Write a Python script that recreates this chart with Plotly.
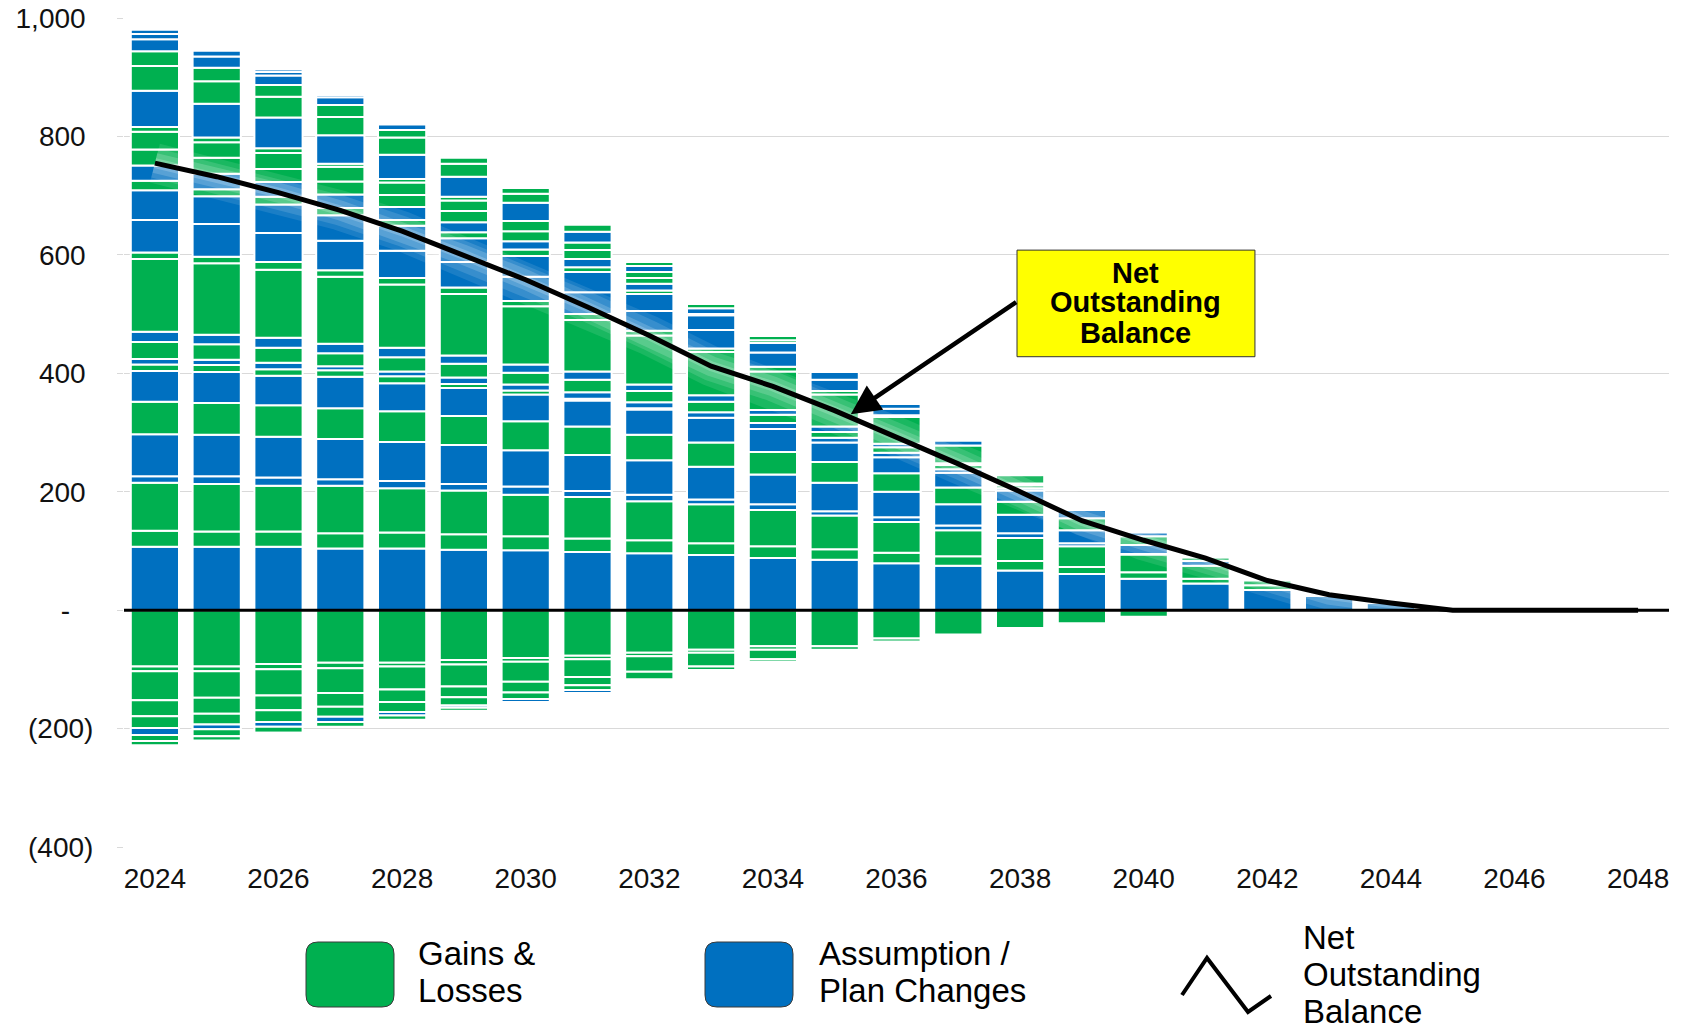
import plotly.graph_objects as go

# ---------------------------------------------------------------------------
# Data
# ---------------------------------------------------------------------------
years = list(range(2024, 2049))
x_ticks = list(range(2024, 2049, 2))

GREEN = "#00B050"   # Gains & Losses
BLUE = "#0070C0"    # Assumption / Plan Changes

# Outstanding amortization layers above zero, listed bottom to top.
# Each list starts in 2024 and stops once the layer is fully amortized.
pos_01 = [107, 107, 107, 104, 104, 102, 101, 98, 96, 93, 88, 85, 79, 75, 67, 61, 53, 45, 34, 24, 12]
pos_02 = [27, 26, 26, 26, 27, 26, 24, 23, 22, 20, 20, 18, 18, 16, 16, 12, 11, 8, 8]
pos_03 = [81, 80, 77, 80, 75, 74, 70, 70, 66, 66, 61, 57, 52, 44, 39, 35, 30, 22, 8]
pos_04 = [11, 13, 14, 11, 12, 11, 14, 10, 11, 8, 10, 7, 8, 8, 8, 5, 1]
pos_05 = [71, 70, 69, 68, 66, 66, 61, 61, 58, 55, 50, 48, 43, 36, 31, 22, 15, 8]
pos_06 = [55, 54, 53, 52, 52, 49, 49, 48, 43, 41, 38, 35, 31, 28, 22, 20, 15, 6]
pos_07 = [52, 52, 50, 53, 47, 47, 45, 44, 43, 42, 39, 33, 27, 25, 19, 14, 6]
pos_08 = [11, 12, 11, 11, 12, 7, 7, 3, 2]
pos_09 = [9, 9, 11, 7, 8, 11, 10, 11, 10, 9, 10, 8, 8, 6, 4]
pos_10 = [29, 26, 25, 22, 24, 23, 20, 21, 19, 18, 14, 10, 9, 7, 5]
pos_11 = [17, 16, 17, 16, 16, 14, 14, 14, 11, 11, 8, 9, 6, 3, 3]
pos_12 = [123, 121, 115, 113, 107, 104, 98, 87, 83, 73, 65, 54, 45, 30, 14]
pos_13 = [11, 11, 13, 11, 11, 11, 9, 10, 8, 6, 8, 6, 3]
pos_14 = [55, 55, 49, 50, 46, 43, 41, 37, 33, 31, 24, 19, 11, 8]
pos_15 = [50, 47, 48, 43, 42, 40, 35, 34, 29, 25, 16, 13, 8]
pos_16 = [16, 12, 13, 12, 10, 10, 11, 8, 6, 2, 5]
pos_17 = [26, 26, 25, 23, 22, 17, 14, 14, 11, 10]
pos_18 = [27, 27, 22, 22, 20, 19, 17, 15, 10, 7, 7]
pos_19 = [30, 26, 27, 25, 21, 18, 17, 13, 10]
pos_20 = [8, 8, 8, 5, 6, 6]
pos_21 = [61, 57, 52, 48, 41, 34, 31, 18, 10]
pos_22 = [42, 38, 35, 31, 29, 22, 15, 12, 7]
pos_23 = [25, 23, 20, 20, 13, 10, 10]
pos_24 = [20, 19, 16, 13, 9]
pos_25 = [9, 10, 6, 4]
pos_26 = [7, 3, 4]

pos_colors = [BLUE, GREEN, GREEN, BLUE, BLUE, GREEN, BLUE, GREEN, BLUE, GREEN,
              BLUE, GREEN, GREEN, BLUE, BLUE, GREEN, BLUE, GREEN, GREEN, GREEN,
              BLUE, GREEN, GREEN, BLUE, BLUE, BLUE]

# Layers below zero, listed from zero downward.
neg_01 = [-95, -95, -91, -89, -89, -84, -81, -77, -72, -67, -61, -61, -48, -41, -30, -22, -11]
neg_02 = [-8, -8, -9, -9, -6, -8, -6, -6, -6, -5, -6, -6, -5]
neg_03 = [-49, -45, -44, -42, -39, -37, -34, -30, -26, -23, -16]
neg_04 = [-27, -27, -25, -23, -21, -18, -18, -14, -13, -6, -4]
neg_05 = [-20, -18, -20, -17, -17, -14, -11, -8, -3]
neg_06 = [-12, -8, -8, -9, -6, -4, -5, -5]
neg_07 = [-10, -12, -10, -8, -7, -5]
neg_08 = [-7, -7, -3]

neg_colors = [GREEN, GREEN, GREEN, GREEN, GREEN, BLUE, GREEN, GREEN]

# Net outstanding balance, 2024-2048
net_balance = [755, 732, 705, 675, 640, 600, 558, 512, 464, 412, 378, 337, 293,
               247, 200, 151, 118, 88, 50, 26, 12, 0, 0, 0, 0]

y_ticks = [-400, -200, 0, 200, 400, 600, 800, 1000]
NB = "\u00a0"
y_ticktext = ["(400)", "(200)", "-" + NB * 3, "200" + NB, "400" + NB,
              "600" + NB, "800" + NB, "1,000" + NB]

# ---------------------------------------------------------------------------
# Figure
# ---------------------------------------------------------------------------
W, H = 1688, 1031
M_L, M_R, M_T, M_B = 124, 19, 18, 184
PLOT_W = W - M_L - M_R
PLOT_H = H - M_T - M_B


def px_x(px):
    return (px - M_L) / PLOT_W


def px_y(py):
    return (H - M_B - py) / PLOT_H


fig = go.Figure()

pos_layers = [pos_01, pos_02, pos_03, pos_04, pos_05, pos_06, pos_07, pos_08, pos_09,
              pos_10, pos_11, pos_12, pos_13, pos_14, pos_15, pos_16, pos_17, pos_18,
              pos_19, pos_20, pos_21, pos_22, pos_23, pos_24, pos_25, pos_26]
neg_layers = [neg_01, neg_02, neg_03, neg_04, neg_05, neg_06, neg_07, neg_08]

for vals, col in zip(pos_layers + neg_layers, pos_colors + neg_colors):
    fig.add_trace(go.Bar(
        x=years[:len(vals)], y=vals,
        marker=dict(color=col, line=dict(color="white", width=2)),
        hoverinfo="skip",
    ))

# soft light halo under the balance line, built from a few translucent strokes
for w, a in [(40, 0.10), (30, 0.13), (20, 0.17), (10, 0.2)]:
    fig.add_trace(go.Scatter(x=years, y=net_balance, mode="lines",
                             line=dict(color=f"rgba(255,255,255,{a})", width=w),
                             hoverinfo="skip"))
fig.add_trace(go.Scatter(x=years, y=net_balance, mode="lines",
                         line=dict(color="black", width=5),
                         name="Net Outstanding Balance"))

tick_font = dict(family="Liberation Sans, Arial, sans-serif", size=28, color="#111")

fig.update_layout(
    width=W, height=H,
    margin=dict(l=M_L, r=M_R, t=M_T, b=M_B, autoexpand=False),
    barmode="relative", bargap=0.22,
    plot_bgcolor="white", paper_bgcolor="white",
    showlegend=False,
    font=dict(family="Liberation Sans, Arial, sans-serif", color="#000"),
)
fig.update_xaxes(
    range=[2023.5, 2048.5], tickvals=x_ticks, ticktext=[str(v) for v in x_ticks],
    tickfont=tick_font, showgrid=False, zeroline=False, showline=False,
    ticks="", ticklabelstandoff=12, automargin=False,
)
fig.update_yaxes(
    range=[-400, 1000], tickvals=y_ticks, ticktext=y_ticktext,
    tickfont=tick_font, showgrid=True, gridcolor="#d9d9d9", gridwidth=1,
    zeroline=False, showline=False,
    ticks="outside", ticklen=6, tickcolor="#d9d9d9", tickwidth=1,
    ticklabelstandoff=18, automargin=False,
)

shapes = []
# axis line at zero
shapes.append(dict(type="line", xref="paper", x0=0, x1=1, yref="y", y0=0, y1=0,
                   line=dict(color="black", width=3), layer="above"))

# callout box
shapes.append(dict(type="rect", xref="x", yref="y", x0=2037.95, x1=2041.8,
                   y0=428, y1=608, fillcolor="#FFFF00",
                   line=dict(color="#333333", width=1), layer="above"))


def rounded_rect(x0, y0, x1, y1, r):
    ax0, ax1 = px_x(x0), px_x(x1)
    ay0, ay1 = px_y(y1), px_y(y0)
    rx = r / PLOT_W
    ry = r / PLOT_H
    return (f"M {ax0 + rx},{ay0} L {ax1 - rx},{ay0} Q {ax1},{ay0} {ax1},{ay0 + ry} "
            f"L {ax1},{ay1 - ry} Q {ax1},{ay1} {ax1 - rx},{ay1} "
            f"L {ax0 + rx},{ay1} Q {ax0},{ay1} {ax0},{ay1 - ry} "
            f"L {ax0},{ay0 + ry} Q {ax0},{ay0} {ax0 + rx},{ay0} Z")


# legend swatches
for x0, col in [(306, GREEN), (705, BLUE)]:
    shapes.append(dict(type="path", xref="paper", yref="paper",
                       path=rounded_rect(x0, 942, x0 + 88, 1007, 12),
                       fillcolor=col, line=dict(color="#3a3a3a", width=1)))

# legend line icon
zig = [(1182, 995), (1207, 958), (1248, 1012), (1271, 996)]
zig_path = "M " + " L ".join(f"{px_x(a)},{px_y(b)}" for a, b in zig)
shapes.append(dict(type="path", xref="paper", yref="paper", path=zig_path,
                   line=dict(color="black", width=4)))

fig.update_layout(shapes=shapes)

annotations = []
# arrow from callout to the balance line
annotations.append(dict(x=2035.26, y=331, xref="x", yref="y",
                        ax=2037.96, ay=522, axref="x", ayref="y",
                        text="", showarrow=True, arrowhead=2, arrowsize=1.3,
                        arrowwidth=4.5, arrowcolor="black", standoff=0))
for txt, yv in [("Net", 569), ("Outstanding", 520), ("Balance", 468)]:
    annotations.append(dict(x=2039.87, y=yv, xref="x", yref="y", text=f"<b>{txt}</b>",
                            showarrow=False, xanchor="center", yanchor="middle",
                            font=dict(family="Liberation Sans, Arial, sans-serif",
                                      size=29, color="black")))

legend_font = dict(family="Liberation Sans, Arial, sans-serif", size=33, color="black")
legend_text = [
    ("Gains &", 417, 953), ("Losses", 417, 991),
    ("Assumption /", 818, 953), ("Plan Changes", 818, 991),
    ("Net", 1302, 937), ("Outstanding", 1302, 974), ("Balance", 1302, 1011),
]
for txt, px, py in legend_text:
    annotations.append(dict(x=px_x(px), y=px_y(py), xref="paper", yref="paper",
                            text=txt, showarrow=False, xanchor="left",
                            yanchor="middle", font=legend_font, borderpad=0))

fig.update_layout(annotations=annotations)

fig.write_html("out.html")
